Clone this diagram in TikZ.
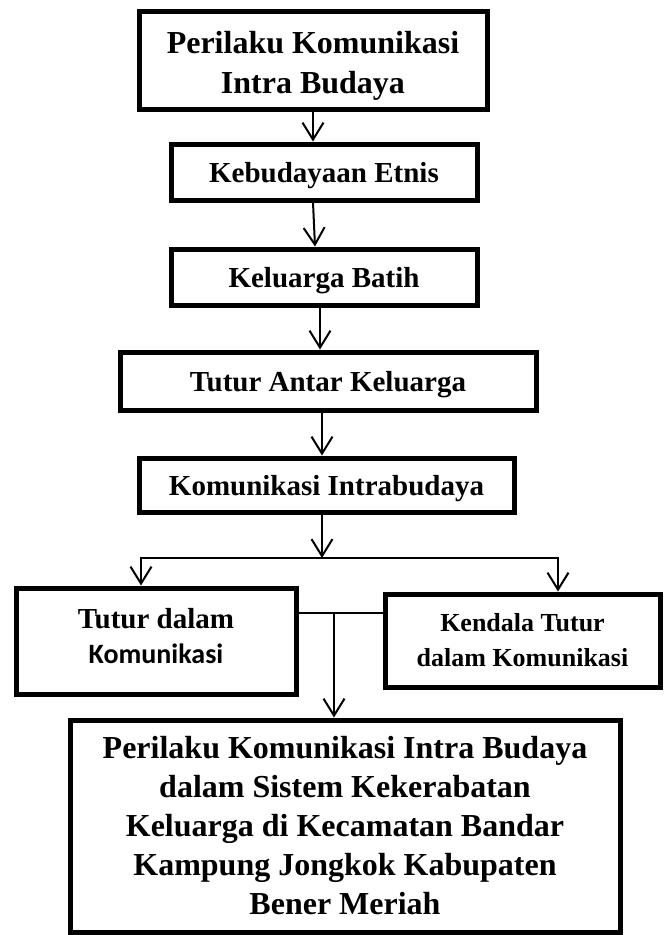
\documentclass[tikz,border=0pt]{standalone}
\usepackage{fontspec}
\setmainfont{Liberation Serif}
\newfontfamily\sansfnt{Carlito}
\usetikzlibrary{arrows.meta}

\begin{document}
\begin{tikzpicture}[x=1pt,y=-1pt,
        box/.style={draw,line width=5pt,inner sep=0pt,align=center,font=\bfseries\fontsize{29}{35}\selectfont},
        onerow/.style={text height=21pt,text depth=0pt}, % baseline a bit below the middle
        wire/.style={line width=2pt},
        arrowline/.style={wire,-{Straight Barb[length=17pt,width=21pt]}}
    ]
    \useasboundingbox (0,0) rectangle (664,935);

    \node[box,minimum width=348pt,minimum height=98pt,font=\bfseries\fontsize{32}{40}\selectfont] (perilaku) at (313,60)
        {\rule{0pt}{33pt}Perilaku Komunikasi\\Intra Budaya};
    \node[box,onerow,minimum width=306pt,minimum height=56pt] (etnis) at (324,172) {Kebudayaan Etnis};
    \node[box,onerow,minimum width=306pt,minimum height=56pt] (batih) at (324,277) {Keluarga Batih};
    \node[box,onerow,minimum width=416pt,minimum height=58pt] (antar) at (328,381) {Tutur Antar Keluarga};
    \node[box,onerow,minimum width=375pt,minimum height=54pt] (intra) at (326.5,485) {Komunikasi Intrabudaya};
    \node[box,minimum width=280pt,minimum height=106pt] (tuturkom) at (156,641)
        {Tutur dalam\\{\sansfnt\fontsize{28}{35}\selectfont Komunikasi}\rule[-11pt]{0pt}{11pt}};
    \node[box,minimum width=275pt,minimum height=93pt,font=\bfseries\fontsize{26}{35}\selectfont] (kendala) at (522.5,640.5)
        {Kendala Tutur\\dalam Komunikasi};
    \node[box,minimum width=550pt,minimum height=212pt,font=\bfseries\fontsize{32}{39}\selectfont] (hasil) at (345,826)
        {Perilaku Komunikasi Intra Budaya\\dalam Sistem Kekerabatan\\Keluarga di Kecamatan Bandar\\Kampung Jongkok Kabupaten\\Bener Meriah};

    \coordinate (split) at (322,558);
    \coordinate (sl) at (141,558);
    \coordinate (sr) at (558,558);
    \coordinate (join) at (334,613);

    \draw[arrowline] (perilaku.south) -- (etnis.north -| perilaku.south);
    \draw[arrowline] ([xshift=-11pt]etnis.south) -- ([xshift=-9pt]batih.north);
    \draw[arrowline] ([xshift=-4pt]batih.south) -- ([xshift=-8pt]antar.north);
    \draw[arrowline] ([xshift=-6pt]antar.south) -- ([xshift=-4.5pt]intra.north);
    \draw[arrowline] ([xshift=-4.5pt]intra.south) -- (split);
    \draw[arrowline] (split) -- (sl) -- (sl |- tuturkom.north);
    \draw[arrowline] (split) -- (sr) -- (sr |- kendala.north);
    \draw[wire] (join -| tuturkom.east) -- (join -| kendala.west);
    \draw[arrowline] (join) -- (join |- hasil.north);
\end{tikzpicture}
\end{document}
